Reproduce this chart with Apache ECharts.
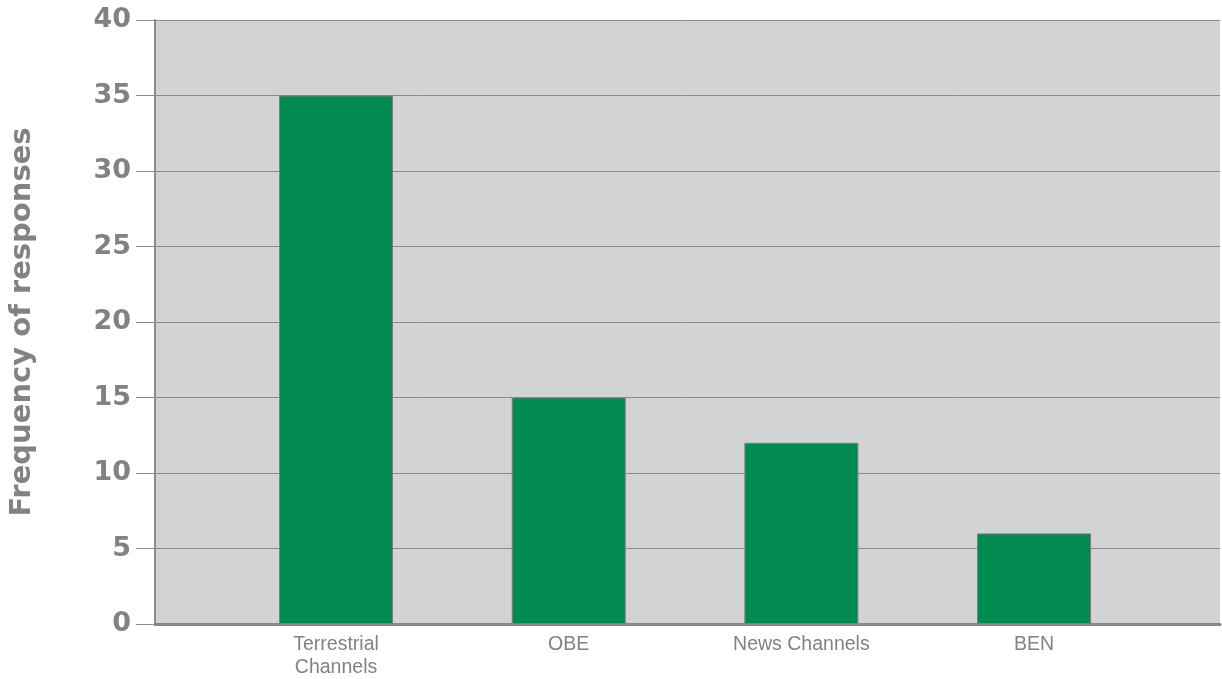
<!DOCTYPE html>
<html>
<head>
<meta charset="utf-8">
<script src="https://cdn.jsdelivr.net/npm/echarts@6/dist/echarts.min.js"></script>
<style>
html,body{margin:0;padding:0;background:#fff;}
#chart{width:1222px;height:679px;}
</style>
</head>
<body>
<div id="chart"></div>
<script>
var categories = ['Terrestrial\nChannels', 'OBE', 'News Channels', 'BEN'];
var values = [35, 15, 12, 6];
var yAxisName = 'Frequency of responses';
var yMin = 0, yMax = 40, yStep = 5;

var textGray = '#808285';
var lineGray = '#8a8b8d';

var chart = echarts.init(document.getElementById('chart'), null, {renderer: 'canvas'});
chart.setOption({
  animation: false,
  backgroundColor: '#ffffff',
  grid: [
    {left: 155, right: 2, top: 20, bottom: 55, show: true, backgroundColor: '#d1d3d4', borderWidth: 0, containLabel: false, outerBoundsMode: 'none'},
    {left: 219.7, width: 930.7, top: 20, bottom: 55, containLabel: false, outerBoundsMode: 'none'}
  ],
  xAxis: [
    {
      gridIndex: 0, type: 'category', data: categories,
      axisLine: {show: true, lineStyle: {color: '#858789', width: 3}},
      axisTick: {show: false}, axisLabel: {show: false}, splitLine: {show: false}
    },
    {
      gridIndex: 1, type: 'category', data: categories,
      axisLine: {show: false}, axisTick: {show: false}, splitLine: {show: false},
      axisLabel: {
        show: true, margin: 9, color: textGray, fontSize: 19.5, lineHeight: 23,
        fontFamily: 'Liberation Sans, Arial, sans-serif'
      }
    }
  ],
  yAxis: [
    {
      gridIndex: 0, type: 'value', min: yMin, max: yMax, interval: yStep,
      name: yAxisName, nameLocation: 'middle', nameGap: 118,
      nameTextStyle: {color: textGray, fontSize: 29, fontWeight: 'bold', fontFamily: 'DejaVu Sans, sans-serif'},
      axisLine: {show: true, lineStyle: {color: lineGray, width: 2}},
      axisTick: {show: true, length: 19, lineStyle: {color: lineGray, width: 1}},
      axisLabel: {
        margin: 24, color: textGray, fontSize: 27, fontWeight: 'bold',
        fontFamily: 'DejaVu Sans, sans-serif'
      },
      splitLine: {show: true, lineStyle: {color: lineGray, width: 1}}
    },
    {
      gridIndex: 1, type: 'value', min: yMin, max: yMax, interval: yStep, show: false
    }
  ],
  series: [{
    type: 'bar', xAxisIndex: 1, yAxisIndex: 1, data: values, barWidth: 114,
    itemStyle: {color: '#008a50', borderColor: '#7d7f81', borderWidth: 1}
  }]
});
</script>
</body>
</html>
